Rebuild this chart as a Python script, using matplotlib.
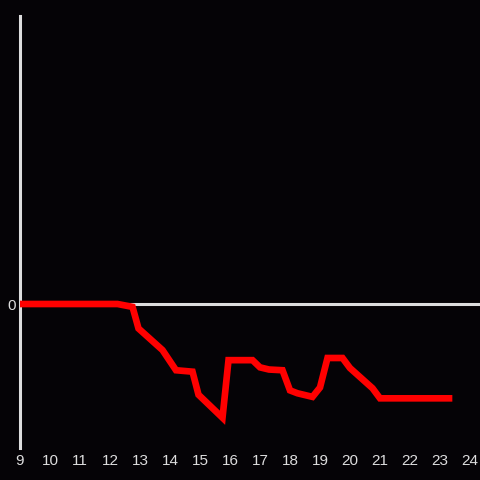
import matplotlib
matplotlib.use("Agg")
import matplotlib.pyplot as plt

# time of day (hours) and value
hours = [9.0, 12.25, 12.75, 12.95, 13.75, 14.2, 14.75, 14.95, 15.75, 15.95,
         16.75, 17.0, 17.3, 17.75, 18.0, 18.25, 18.75, 19.0, 19.25, 19.75,
         20.0, 20.75, 21.0, 23.3]
values = [0.0, 0.0, -0.2, -1.7, -3.2, -4.6, -4.7, -6.3, -7.9, -3.9,
          -3.9, -4.4, -4.55, -4.6, -6.0, -6.2, -6.45, -5.8, -3.75, -3.75,
          -4.45, -5.85, -6.55, -6.55]
xticks = list(range(9, 25))

bg = "#050306"
fg = "#dddddd"

fig = plt.figure(figsize=(4.8, 4.8), dpi=100, facecolor=bg)
ax = fig.add_axes([20 / 480, 32 / 480, 460 / 480, 432 / 480], facecolor=bg)

ax.axhline(0, color=fg, lw=2.2, zorder=1)
ax.plot(hours, values, color="#ff0000", lw=4.8, solid_joinstyle="miter", zorder=3)

ax.set_xlim(9, 24.333)
ax.set_ylim(-10, 20)
ax.set_xticks(xticks)
ax.set_xticklabels([str(t) for t in xticks])
ax.set_yticks([0])
ax.set_yticklabels(["0"])

for s in ["top", "right", "bottom"]:
    ax.spines[s].set_visible(False)
ax.spines["left"].set_color(fg)
ax.spines["left"].set_linewidth(2.2)

ax.tick_params(length=0, colors=fg, labelsize=11, pad=4.5)
ax.tick_params(axis="y", pad=3)
for lbl in ax.get_xticklabels() + ax.get_yticklabels():
    lbl.set_fontfamily("Liberation Sans")
    lbl.set_color(fg)

fig.savefig("out.png", dpi=100, facecolor=bg)
